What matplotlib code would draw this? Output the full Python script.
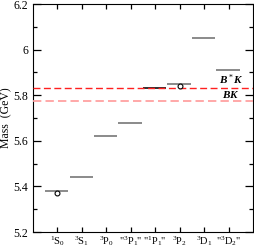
import numpy as np
import matplotlib
matplotlib.use("Agg")
import matplotlib.pyplot as plt

plt.rcParams['font.family'] = ['Liberation Serif', 'DejaVu Serif']
plt.rcParams['mathtext.fontset'] = 'custom'
plt.rcParams['mathtext.rm'] = 'Liberation Serif'
plt.rcParams['mathtext.it'] = 'Liberation Serif:italic:bold'
plt.rcParams['mathtext.bf'] = 'Liberation Serif:bold'

# predicted masses (GeV) per state
states = [r'$^1\mathrm{S}_0$', r'$^3\mathrm{S}_1$', r'$^3\mathrm{P}_0$', r'"$^3\mathrm{P}_1$"',
          r'"$^1\mathrm{P}_1$"', r'$^3\mathrm{P}_2$', r'$^3\mathrm{D}_1$', r'"$^3\mathrm{D}_2$"']
masses = [5.38, 5.44, 5.62, 5.68, 5.83, 5.85, 6.05, 5.91]
# experimental points
exp_pos = [1, 6]
exp_mass = [5.370, 5.840]
# thresholds
thr_names = [r'$B^*K$', r'$BK$']
thr_mass = [5.830, 5.775]

fig = plt.figure(figsize=(2.55, 2.52), dpi=100)
ax = fig.add_axes([0.129, 0.079, 0.863, 0.905])

x = np.arange(1, len(states) + 1)
for i, m in zip(x, masses):
    col = '#303030' if i == 5 else '#8a8a8a'
    ax.hlines(m, i - 0.5, i + 0.45, color=col, lw=1.4, zorder=2)

ax.axhline(thr_mass[0], color='#ff2020', lw=1.0, ls=(0, (5, 2.5)), zorder=3)
ax.axhline(thr_mass[1], color='#ff9a9a', lw=1.2, ls=(0, (5, 2.5)), zorder=3)
ax.text(8.1, thr_mass[0] + 0.006, thr_names[0], ha='center', va='bottom', fontsize=8)
ax.text(8.1, 5.805, thr_names[1], ha='center', va='center', fontsize=8)

ax.plot(exp_pos, exp_mass, 'o', mfc='white', mec='black', ms=3.5, mew=0.8, zorder=4)

ax.set_xlim(0, 9)
ax.set_ylim(5.2, 6.2)
ax.set_xticks(x)
ax.set_xticklabels(states, fontsize=7.5)
ax.set_yticks([5.2, 5.4, 5.6, 5.8, 6.0, 6.2])
ax.set_yticklabels(['5.2', '5.4', '5.6', '5.8', '6', '6.2'], fontsize=8.5)
ax.set_yticks(np.arange(5.3, 6.2, 0.2), minor=True)
ax.tick_params(which='major', direction='in', top=True, right=True, length=5.5, width=0.9)
ax.tick_params(which='minor', direction='in', right=True, length=3, width=0.9)
ax.tick_params(axis='x', which='major', length=3.5, pad=1.5)
ax.set_ylabel('Mass  (GeV)', fontsize=8.5)
ax.yaxis.set_label_coords(-0.095, 0.5)

fig.savefig('out.png', dpi=100)
